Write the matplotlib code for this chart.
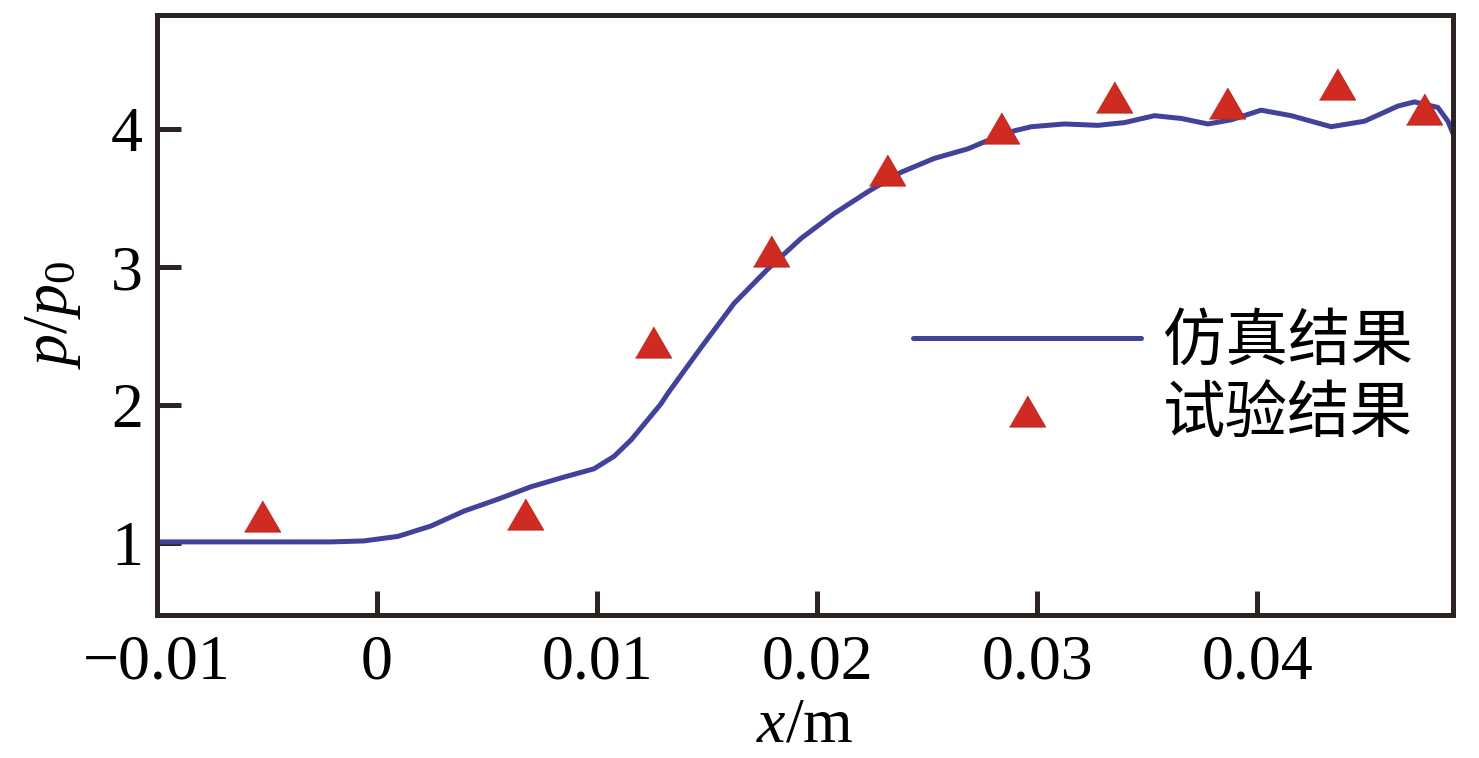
import matplotlib
matplotlib.use("Agg")
import matplotlib.pyplot as plt

# ---- data ----
x_sim = [-0.0100, -0.0060, -0.0021, -0.0006, 0.00095, 0.00245, 0.00395, 0.0055, 0.0070,
         0.0085, 0.00986, 0.01077, 0.01155, 0.0129, 0.01323, 0.01473, 0.01623, 0.01777,
         0.01927, 0.02077, 0.02232, 0.02382, 0.02532, 0.02686, 0.02760, 0.02895, 0.02973,
         0.03124, 0.03276, 0.03397, 0.03533, 0.03655, 0.03776, 0.03882, 0.04018, 0.04155,
         0.04336, 0.04488, 0.04640, 0.04715, 0.04821, 0.04867, 0.0489]
y_sim = [1.01, 1.01, 1.01, 1.017, 1.05, 1.125, 1.233, 1.32, 1.41,
         1.48, 1.54, 1.63, 1.75, 2.01, 2.09, 2.42, 2.74, 2.99,
         3.21, 3.39, 3.55, 3.69, 3.79, 3.86, 3.91, 3.99, 4.02,
         4.04, 4.03, 4.05, 4.10, 4.08, 4.04, 4.07, 4.14, 4.10,
         4.02, 4.06, 4.17, 4.20, 4.16, 4.06, 3.97]
x_exp = [-0.00523, 0.00673, 0.01255, 0.01791, 0.02317, 0.02836, 0.0335, 0.03864, 0.04362, 0.04759]
y_exp = [1.195, 1.21, 2.46, 3.117, 3.708, 4.011, 4.238, 4.191, 4.328, 4.148]

x_ticks = [-0.01, 0, 0.01, 0.02, 0.03, 0.04]
x_ticklabels = ["\u22120.01", "0", "0.01", "0.02", "0.03", "0.04"]
y_ticks = [1, 2, 3, 4]
labels = ["仿真结果", "试验结果"]

plt.rcParams['font.family'] = ['Liberation Serif', 'Noto Sans CJK SC', 'DejaVu Sans']
plt.rcParams['mathtext.fontset'] = 'custom'
plt.rcParams['mathtext.rm'] = 'Liberation Serif'
plt.rcParams['mathtext.it'] = 'Liberation Serif:italic'

spine_c = '#2b2421'
line_c = '#41429a'
tri_c = '#d02b22'

fig = plt.figure(figsize=(14.79, 7.58), dpi=100)
ax = fig.add_axes([157/1479, 1-615/758, (1453-157)/1479, (615-15)/758])

tri = [(-1, -0.86), (1, -0.86), (0, 0.86)]
ax.plot(x_sim, y_sim, color=line_c, lw=3.6, label=labels[0],
        solid_capstyle='round', solid_joinstyle='round')
ax.plot(x_exp, y_exp, linestyle='none', marker=tri, ms=26, color=tri_c,
        markeredgecolor='#b82a22', markeredgewidth=0.8, label=labels[1])

ax.set_xlim(-0.01, 0.0489)
ax.set_ylim(0.48, 4.83)
ax.set_xticks(x_ticks)
ax.set_xticklabels(x_ticklabels)
ax.set_yticks(y_ticks)

for s in ax.spines.values():
    s.set_linewidth(3.6)
    s.set_color(spine_c)
ax.tick_params(direction='in', length=17, width=3.6, color=spine_c,
               labelsize=46, pad=10, top=False, right=False)
ax.tick_params(axis='x', pad=14)

ax.set_xlabel("$x$/m", fontsize=46, labelpad=4)
ax.set_ylabel("$p/p_0$", fontsize=46, labelpad=20)

leg = ax.legend(loc='center left', bbox_to_anchor=(0.583, 0.395), frameon=False,
                prop={'family': ['Noto Sans CJK SC'], 'size': 45},
                handlelength=3.66, handletextpad=0.34, labelspacing=0.14,
                borderaxespad=0, borderpad=0)

fig.savefig("out.png", dpi=100)
